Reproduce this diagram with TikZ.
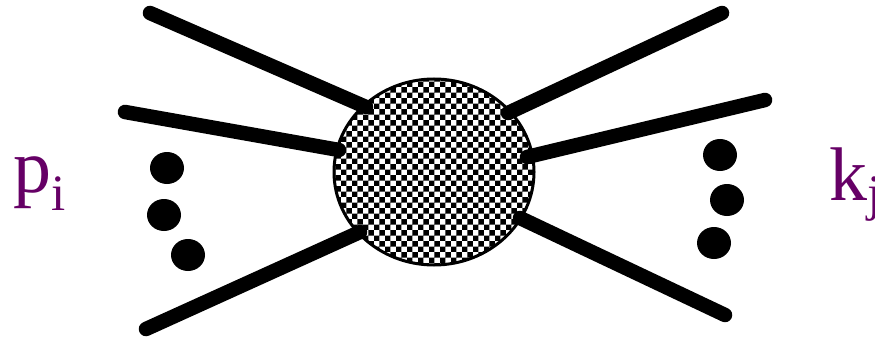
\documentclass[tikz,border=0pt]{standalone}
\usepackage{fontspec}
\setmainfont{Liberation Serif}
\newfontfamily\lblfont{Liberation Serif}
\usetikzlibrary{patterns,shapes.geometric}
\definecolor{labelpurple}{RGB}{102,0,102}
\tikzset{
  leg/.style={line width=14.5pt, line cap=round, black},
  blob/.style={ellipse, draw=black, line width=3pt, minimum width=200pt, minimum height=186pt, inner sep=0pt,
    preaction={fill=white}, pattern=checkerboard},
  dotmark/.style={fill=black, draw=none},
  lbl/.style={text=labelpurple, inner sep=0pt, anchor=base west, font=\lblfont}
}
\begin{document}
\begin{tikzpicture}[x=1pt,y=-1pt]
\fill[white] (0,0) rectangle (875,342);
\useasboundingbox (0,0) rectangle (875,342);
\node[blob] (B) at (434,172) {};
% line end coordinates
\coordinate (a1) at (150,13);  \coordinate (a2) at (366,107);
\coordinate (b1) at (125,112); \coordinate (b2) at (339,150);
\coordinate (c1) at (146,329); \coordinate (c2) at (360,232);
\coordinate (d1) at (722,13);  \coordinate (d2) at (508,113);
\coordinate (e1) at (765,100); \coordinate (e2) at (527,157);
\coordinate (f1) at (725,315); \coordinate (f2) at (520,218);
\draw[leg] (a1) -- (a2);
\draw[leg] (b1) -- (b2);
\draw[leg] (c1) -- (c2);
\draw[leg] (d1) -- (d2);
\draw[leg] (e1) -- (e2);
\draw[leg] (f1) -- (f2);
% dots
\fill[dotmark] (167,168) ellipse [x radius=17, y radius=16];
\fill[dotmark] (164,215) ellipse [x radius=17, y radius=16];
\fill[dotmark] (188,255) ellipse [x radius=17, y radius=16];
\fill[dotmark] (720,155) ellipse [x radius=17, y radius=16];
\fill[dotmark] (727,200) ellipse [x radius=17, y radius=16];
\fill[dotmark] (714,243) ellipse [x radius=17, y radius=16];
% labels
\node[lbl] (p) at (13,192) {\fontsize{76}{76}\selectfont p\raisebox{-18pt}{\fontsize{51}{51}\selectfont i}};
\node[lbl] (k) at (829,200) {\fontsize{76}{76}\selectfont k\raisebox{-10pt}{\fontsize{51}{51}\selectfont j}};
\end{tikzpicture}
\end{document}
